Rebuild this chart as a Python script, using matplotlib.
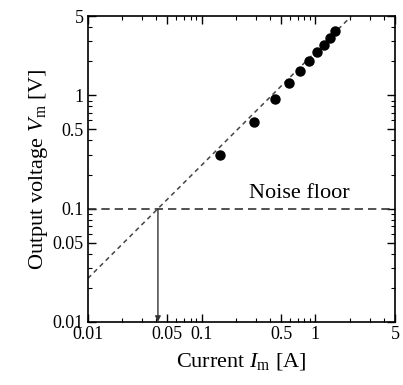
import matplotlib
matplotlib.use("Agg")
import matplotlib.pyplot as plt
import numpy as np
from matplotlib.ticker import FixedLocator, FixedFormatter, LogLocator, NullFormatter

plt.rcParams['font.family'] = ['Liberation Serif', 'DejaVu Serif']
plt.rcParams['mathtext.fontset'] = 'custom'
plt.rcParams['mathtext.rm'] = 'Liberation Serif'
plt.rcParams['mathtext.it'] = 'Liberation Serif:italic'

# data
current = [0.145, 0.29, 0.444, 0.589, 0.728, 0.88, 1.03, 1.18, 1.34, 1.50]
voltage = [0.297, 0.58, 0.93, 1.28, 1.63, 2.0, 2.40, 2.79, 3.21, 3.70]
fit_x = [0.01, 2.07]
fit_y = [0.0242, 5.0]
noise_floor = 0.1
detect_current = 0.0413
tick_vals = [0.01, 0.05, 0.1, 0.5, 1, 5]
tick_labels = ['0.01', '0.05', '0.1', '0.5', '1', '5']

fig = plt.figure(figsize=(4.03, 3.85), dpi=100)
ax = fig.add_axes([0.218, 0.164, 0.762, 0.794])
ax.set_xscale('log')
ax.set_yscale('log')
ax.set_xlim(0.01, 5)
ax.set_ylim(0.01, 5)

ax.plot(fit_x, fit_y, color='#444444', lw=1.1, linestyle=(0, (3, 2.5)))
ax.axhline(noise_floor, color='#333333', lw=1.2, linestyle=(0, (5, 3)))
ax.plot(current, voltage, 'o', color='black', ms=6.5)
ax.annotate('', xy=(detect_current, 0.01), xytext=(detect_current, noise_floor),
            arrowprops=dict(arrowstyle='-|>', color='#333333', lw=1.0,
                            mutation_scale=8, shrinkA=0, shrinkB=0))
ax.text(0.72, 0.112, 'Noise floor', fontsize=16, ha='center', va='bottom')

ax.xaxis.set_major_locator(FixedLocator(tick_vals))
ax.xaxis.set_major_formatter(FixedFormatter(tick_labels))
ax.yaxis.set_major_locator(FixedLocator(tick_vals))
ax.yaxis.set_major_formatter(FixedFormatter(tick_labels))
minor = LogLocator(base=10, subs=np.arange(1, 10))
ax.xaxis.set_minor_locator(minor)
ax.yaxis.set_minor_locator(LogLocator(base=10, subs=np.arange(1, 10)))
ax.xaxis.set_minor_formatter(NullFormatter())
ax.yaxis.set_minor_formatter(NullFormatter())
ax.tick_params(which='both', direction='in', top=True, right=True, labelsize=13, pad=3)
ax.tick_params(which='major', length=6, width=1)
ax.tick_params(which='minor', length=3, width=0.8)
for s in ax.spines.values():
    s.set_linewidth(1.2)

ax.set_xlabel(r'Current $I_{\mathrm{m}}$ [A]', fontsize=16, labelpad=6)
ax.set_ylabel(r'Output voltage $V_{\mathrm{m}}$ [V]', fontsize=16, labelpad=2)

fig.savefig('out.png', dpi=100)
